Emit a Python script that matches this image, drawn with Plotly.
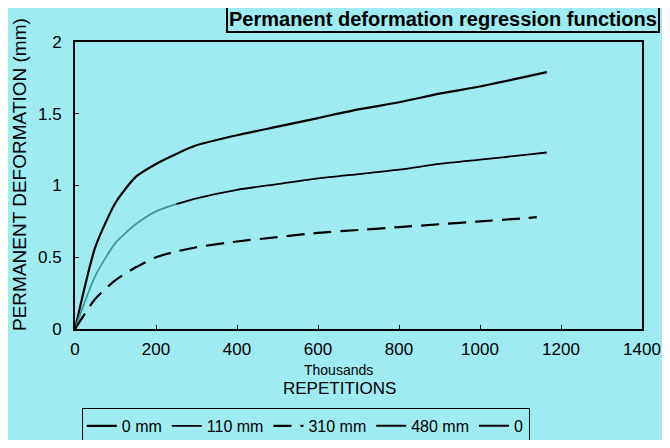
import plotly.graph_objects as go

# repetitions (thousands) and permanent deformation (mm)
x_0mm = [0, 50, 100, 150, 200, 250, 300, 400, 500, 600, 700, 800, 900, 1000, 1100, 1165]
y_0mm = [0, 0.57, 0.88, 1.06, 1.15, 1.22, 1.28, 1.35, 1.41, 1.47, 1.53, 1.58, 1.64, 1.69, 1.75, 1.79]

x_110mm = [0, 50, 100, 150, 200, 250, 300, 400, 500, 600, 700, 800, 900, 1000, 1100, 1165]
y_110mm = [0, 0.37, 0.60, 0.73, 0.82, 0.87, 0.91, 0.97, 1.01, 1.05, 1.08, 1.11, 1.15, 1.18, 1.21, 1.23]

x_310mm = [0, 50, 100, 150, 200, 250, 300, 400, 500, 600, 700, 800, 900, 1000, 1100, 1140]
y_310mm = [0, 0.21, 0.34, 0.43, 0.50, 0.54, 0.57, 0.61, 0.64, 0.67, 0.69, 0.71, 0.73, 0.75, 0.77, 0.78]

x_ticks = [0, 200, 400, 600, 800, 1000, 1200, 1400]
y_ticks = [0, 0.5, 1, 1.5, 2]

BG = "#9eecf0"
FONT = "Liberation Sans, Arial, sans-serif"

fig = go.Figure()

fig.add_trace(go.Scatter(x=x_0mm, y=y_0mm, mode="lines", name="0 mm",
                         line=dict(color="black", width=2.2, shape="spline", smoothing=0.6)))

# 110 mm curve: teal at the start, black afterwards (as on the slide)
split = x_110mm.index(250)
fig.add_trace(go.Scatter(x=x_110mm[split:], y=y_110mm[split:], mode="lines", name="110 mm",
                         legendgroup="110",
                         line=dict(color="black", width=1.8, shape="spline", smoothing=0.6)))
fig.add_trace(go.Scatter(x=x_110mm[:split + 1], y=y_110mm[:split + 1], mode="lines",
                         legendgroup="110", showlegend=False,
                         line=dict(color="#3f9a9c", width=1.8, shape="spline", smoothing=0.6)))

fig.add_trace(go.Scatter(x=x_310mm, y=y_310mm, mode="lines", name="310 mm",
                         line=dict(color="black", width=2.2, dash="18px,9px",
                                   shape="spline", smoothing=0.6)))

# series present in the legend only
fig.add_trace(go.Scatter(x=[None], y=[None], mode="lines", name="480 mm",
                         line=dict(color="black", width=2)))
fig.add_trace(go.Scatter(x=[None], y=[None], mode="lines", name="0",
                         line=dict(color="black", width=2)))

# page body adds an 8px offset, so the figure is a little smaller than the window
fig.update_layout(
    width=662, height=432,
    margin=dict(l=67, r=28, t=34, b=111, autoexpand=False),
    paper_bgcolor=BG, plot_bgcolor=BG,
    font=dict(family=FONT, color="black"),
    showlegend=True,
    legend=dict(orientation="h", x=0.012, xanchor="left", y=-0.275, yanchor="top",
                bordercolor="black", borderwidth=1, bgcolor=BG,
                font=dict(size=16), itemwidth=30),
)

fig.update_xaxes(range=[0, 1400], tickvals=x_ticks, showgrid=False, zeroline=False,
                 showline=True, linecolor="black", linewidth=2, mirror=True,
                 ticks="inside", ticklen=4, tickcolor="black", automargin=False,
                 tickfont=dict(size=17), ticklabelstandoff=4)
fig.update_yaxes(range=[0, 2], tickvals=y_ticks, showgrid=False, zeroline=False,
                 showline=True, linecolor="black", linewidth=2, mirror=True,
                 ticks="inside", ticklen=4, tickcolor="black", automargin=False,
                 tickfont=dict(size=17), ticklabelstandoff=8)

# boxed title at the top right of the slide
fig.add_annotation(text="<b>Permanent deformation regression functions</b>",
                   xref="paper", yref="paper", x=1.032, y=1.033,
                   xanchor="right", yanchor="bottom", showarrow=False,
                   font=dict(size=20), bordercolor="black", borderwidth=2,
                   borderpad=1, bgcolor=BG)

fig.add_annotation(text="PERMANENT DEFORMATION (mm)", textangle=-90,
                   xref="paper", yref="paper", x=-0.0988, y=0.54,
                   xanchor="center", yanchor="middle", showarrow=False,
                   font=dict(size=19))
fig.add_annotation(text="Thousands", xref="paper", yref="paper", x=0.464, y=-0.143,
                   xanchor="center", yanchor="middle", showarrow=False,
                   font=dict(size=14))
fig.add_annotation(text="REPETITIONS", xref="paper", yref="paper", x=0.467, y=-0.206,
                   xanchor="center", yanchor="middle", showarrow=False,
                   font=dict(size=17))

fig.write_html("out.html")
